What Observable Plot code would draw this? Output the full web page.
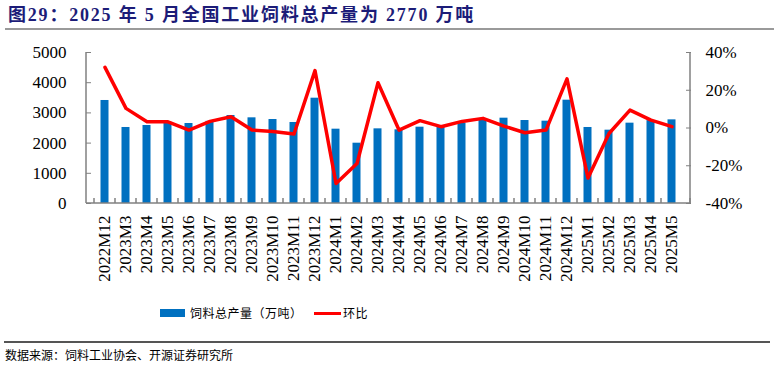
<!DOCTYPE html>
<html><head><meta charset="utf-8">
<script src="https://cdn.jsdelivr.net/npm/d3@7"></script>
<script src="https://cdn.jsdelivr.net/npm/@observablehq/plot@0.6"></script>
<style>
body{margin:0;background:#fff;width:774px;height:368px;position:relative;overflow:hidden;font-family:"Noto Sans CJK SC",sans-serif}
#title{position:absolute;left:8px;top:3px;font-weight:bold;font-size:18px;letter-spacing:1.8px;font-family:"Liberation Serif","Noto Sans CJK SC",serif;color:#1c1c78;white-space:nowrap;line-height:24px}
#tline{position:absolute;left:5px;right:0;top:28px;height:2px;background:#9a9a9a}
#chart{position:absolute;left:0;top:30px}
#legend{position:absolute;top:304px;left:160px;height:18px;font-size:12px;letter-spacing:0.5px;line-height:18px;color:#000;white-space:nowrap}
#legend .sw{position:absolute}
#legend .tx{position:absolute;top:0}
#bline{position:absolute;left:4px;right:4px;top:341px;height:1.5px;background:#555}
#source{position:absolute;left:5px;top:346px;font-size:12px;line-height:18px;color:#000;white-space:nowrap}
</style></head>
<body>
<div id="title">图29：2025 年 5 月全国工业饲料总产量为 2770 万吨</div>
<div id="tline"></div>
<div id="chart"></div>
<div id="legend">
  <div class="sw" style="left:0;top:5px;width:25px;height:8px;background:#0070C0"></div>
  <div class="tx" style="left:30px">饲料总产量（万吨）</div>
  <div class="sw" style="left:154px;top:7.5px;width:27px;height:3px;background:#FF0000"></div>
  <div class="tx" style="left:183px">环比</div>
</div>
<div id="bline"></div>
<div id="source">数据来源：饲料工业协会、开源证券研究所</div>
<script>
const categories = ["2022M12","2023M3","2023M4","2023M5","2023M6","2023M7","2023M8","2023M9","2023M10","2023M11","2023M12",
  "2024M1","2024M2","2024M3","2024M4","2024M5","2024M6","2024M7","2024M8","2024M9","2024M10","2024M11","2024M12",
  "2025M1","2025M2","2025M3","2025M4","2025M5"];
const output = [3411,2517,2583,2690,2649,2720,2914,2837,2781,2682,3487,
  2461,1997,2472,2440,2527,2530,2660,2804,2825,2748,2726,3421,
  2517,2428,2660,2745,2770];
const mom = [32.1,10.4,3.3,3.3,-1.1,3.5,6.0,-1.1,-1.8,-3.2,30.4,
  -29.4,-18.8,24.0,-1.1,3.9,0.7,3.5,5.1,1.0,-2.5,-1.1,26.0,
  -26.5,-2.9,9.5,4.2,0.7];
const leftTicks = [0,1000,2000,3000,4000,5000];
const rightTicks = [-40,-20,0,20,40];
const yMax = 5000, pMin = -40, pMax = 40;
const toY = p => (p - pMin) / (pMax - pMin) * yMax;
const fromY = v => Math.round(v / yMax * (pMax - pMin) + pMin);
const data = categories.map((c, i) => ({c, v: output[i], p: mom[i]}));

const chart = Plot.plot({
  width: 774, height: 260,
  marginTop: 22, marginBottom: 87, marginLeft: 86, marginRight: 84,
  style: {fontFamily: "'Liberation Serif','Times New Roman',serif", fontSize: "17px", color: "#000", background: "#fff", overflow: "visible"},
  x: {type: "band", domain: categories, padding: 0},
  y: {domain: [0, yMax]},
  marks: [
    Plot.barY(data, {x: "c", y: "v", fill: "#0070C0", insetLeft: 6.5, insetRight: 6.5}),
    Plot.axisY({anchor: "left", label: null, ticks: leftTicks, tickSize: -5, tickPadding: 25, stroke: "#808080", tickFormat: d => String(d)}),
    Plot.axisY({anchor: "right", label: null, ticks: rightTicks.map(toY), tickSize: -5, tickPadding: 20, stroke: "#808080", tickFormat: v => fromY(v) + "%"}),
    Plot.axisX({anchor: "bottom", label: null, tickSize: 0, tickRotate: -90, tickPadding: 12}),
    Plot.line(data, {x: "c", y: d => toY(d.p), stroke: "#FF0000", strokeWidth: 3.5, strokeLinejoin: "round"})
  ]
});
document.getElementById("chart").appendChild(chart);

const svg = d3.select(chart);
const xs = chart.scale("x"), ys = chart.scale("y");
const xr = [Math.min(...xs.range), Math.max(...xs.range)];
const yb = Math.max(...ys.range), yt = Math.min(...ys.range);
const g = svg.insert("g", "g[aria-label='line']").attr("stroke", "#808080").attr("stroke-width", 1.5).attr("fill", "none");
g.append("line").attr("x1", xr[0]).attr("x2", xr[0]).attr("y1", yt).attr("y2", yb);
g.append("line").attr("x1", xr[1]).attr("x2", xr[1]).attr("y1", yt).attr("y2", yb);
g.append("line").attr("x1", xr[0]).attr("x2", xr[1]).attr("y1", yb).attr("y2", yb);
const bounds = categories.map(c => xs.apply(c)).concat([xr[1]]);
bounds.forEach(x => g.append("line").attr("x1", x).attr("x2", x).attr("y1", yb).attr("y2", yb - 5));
</script>
</body></html>
